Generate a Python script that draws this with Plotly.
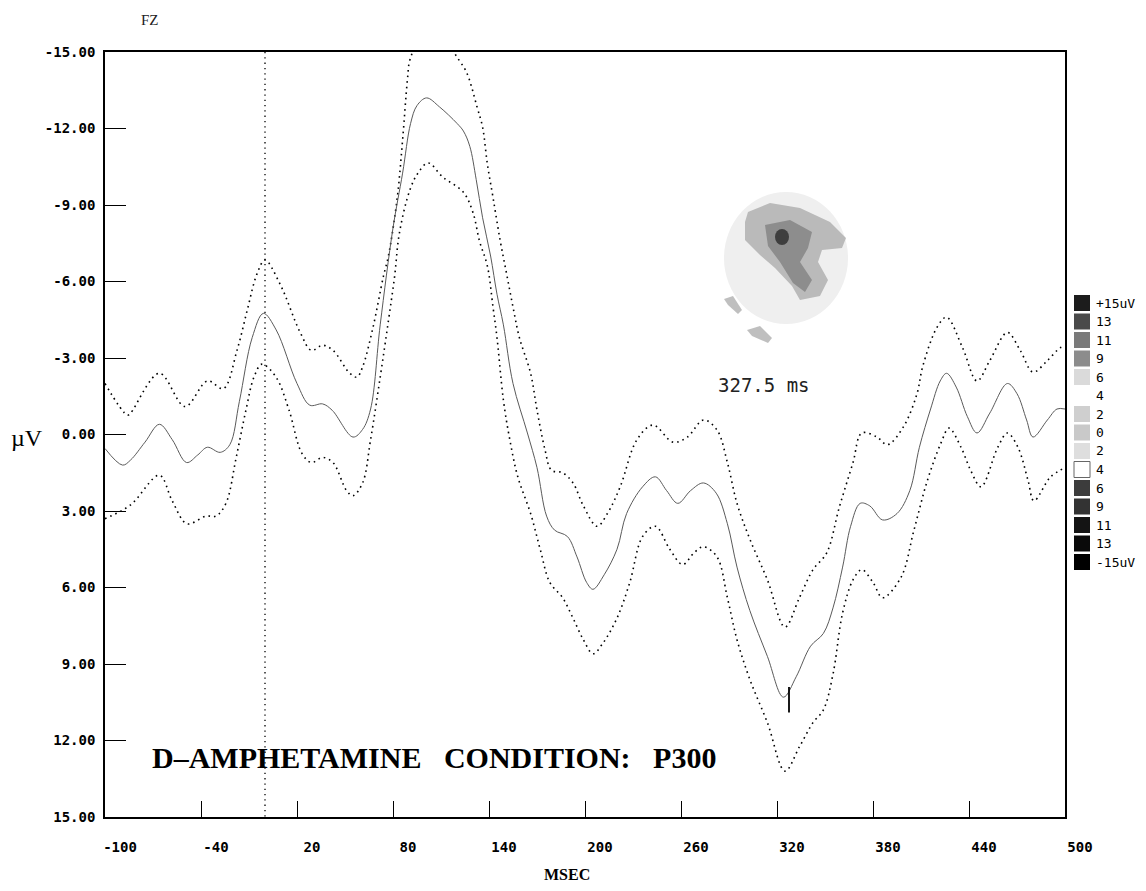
import plotly.graph_objects as go

# ---------------- data ----------------
mean_ms = [-100, -89, -84, -75, -66, -58, -49, -42, -36, -28, -22, -16, -8, -1, 7, 20, 28, 36, 42, 55,
           61, 66, 72, 80, 86, 91, 95, 101, 109, 120, 124, 128, 132, 136, 141, 145, 149, 155, 164, 170,
           176, 181, 189, 195, 201, 205, 212, 220, 226, 236, 244, 251, 258, 266, 274, 282, 289, 295, 303,
           314, 324, 332, 341, 349, 355, 361, 366, 372, 378, 386, 395, 403, 409, 416, 422, 426, 432, 439,
           445, 453, 464, 470, 476, 480, 489, 495, 500]
mean_uv = [0.55, 1.2, 1.0, 0.3, -0.4, 0.2, 1.1, 0.8, 0.5, 0.7, 0.4, -1.3, -3.8, -4.75, -4.1, -2.0, -1.15,
           -1.2, -0.95, 0.1, -0.2, -1.0, -4.3, -8.1, -10.25, -12.2, -12.9, -13.2, -12.85, -12.2, -11.9,
           -11.3, -10.0, -8.5, -7.0, -5.5, -4.3, -2.0, -0.06, 1.3, 3.2, 3.75, 4.0, 4.8, 5.8, 6.07, 5.5,
           4.5, 3.1, 2.05, 1.66, 2.2, 2.7, 2.2, 1.9, 2.3, 3.5, 5.2, 6.9, 8.7, 10.3, 9.5, 8.3, 7.8, 6.8,
           5.2, 3.6, 2.7, 2.8, 3.35, 3.1, 2.2, 0.5, -1.0, -2.1, -2.4, -1.86, -0.7, -0.06, -0.84, -2.0,
           -1.6, -0.57, 0.1, -0.57, -1.0, -1.0]

upper_ms = [-100, -86, -84, -66, -50, -36, -26, -17.5, -11, -5, 0, 9.4, 22, 29, 36, 42.5, 53, 57.5, 61,
            67.5, 74, 77, 82.5, 86, 89, 90.6, 96, 104, 112, 117, 120, 126, 132.5, 136, 139, 142.5, 147,
            151, 155, 159, 166, 170, 175, 179, 186, 192.5, 199, 207.5, 214, 222, 232.5, 242.5, 255, 264,
            274, 282.5, 289, 295, 303, 314, 325, 334, 342.5, 351, 359, 367.5, 373, 382.5, 389, 399,
            407.5, 411, 420, 426, 436, 445, 453, 464, 472, 480, 489, 497, 500]
upper_uv = [-2.0, -0.76, -0.84, -2.4, -1.1, -2.1, -1.8, -3.3, -4.9, -6.3, -6.84, -5.9, -4.0, -3.3, -3.5,
            -3.3, -2.4, -2.25, -2.65, -4.2, -6.2, -6.96, -9.2, -11.55, -13.9, -14.7, -15.4, -15.8, -15.6,
            -15.1, -14.8, -14.2, -12.85, -12.05, -10.6, -9.3, -7.6, -6.3, -5.0, -3.8, -2.4, -0.96, 0.6,
            1.4, 1.5, 1.9, 2.8, 3.6, 3.1, 2.05, 0.2, -0.37, 0.3, 0.1, -0.57, -0.18, 1.1, 2.7, 4.1, 5.7,
            7.55, 6.4, 5.3, 4.65, 2.84, 1.1, -0.06, 0.1, 0.4, -0.3, -1.6, -2.65, -4.2, -4.6, -3.4, -2.1,
            -2.9, -4.0, -3.3, -2.45, -2.9, -3.4, -3.45]

lower_ms = [-100, -84, -66, -58, -48.75, -36.9, -30.6, -24.4, -18, -11.9, -6.9, -1.9, 6.9, 15, 23, 29,
            36, 42.5, 51, 55, 61, 66, 72, 77, 81, 84, 90.6, 95.6, 102, 111, 124, 130, 134, 139, 142.5,
            145, 149, 153, 158, 166, 172, 178, 186, 192.5, 199, 205, 211, 220, 228, 236, 244, 253, 261,
            268, 274, 282.5, 289, 295, 303, 314, 325, 334, 342.5, 349, 355, 361, 367.5, 373, 380, 386,
            397.5, 405.6, 414, 422.5, 427.5, 435, 441, 447.5, 458, 464, 470.6, 476.9, 480.6, 491, 500]
lower_uv = [3.3, 2.76, 1.6, 2.6, 3.5, 3.2, 3.2, 2.7, 0.9, -0.96, -2.25, -2.76, -2.25, -0.96, 0.73, 1.1,
            0.9, 1.1, 2.2, 2.4, 1.9, 0.2, -2.25, -4.4, -6.2, -7.9, -9.6, -10.25, -10.65, -10.1, -9.5,
            -8.7, -7.6, -6.6, -5.0, -3.8, -1.35, 0.2, 1.66, 3.1, 4.5, 5.8, 6.4, 7.2, 8.05, 8.6, 8.2, 7.2,
            5.8, 4.0, 3.6, 4.5, 5.1, 4.65, 4.4, 4.8, 6.4, 8.05, 9.6, 11.3, 13.2, 12.25, 11.3, 10.8, 9.4,
            7.0, 5.7, 5.3, 5.8, 6.4, 5.6, 3.75, 1.8, 0.33, -0.25, 0.5, 1.4, 2.05, 0.5, -0.06, 0.5, 1.8,
            2.6, 1.66, 1.3]

stim_ms = 0
peak_ms = 327.5
peak_mark_uv = [9.9, 10.9]
peak_label = "327.5 ms"

x_ticks = [-100, -40, 20, 80, 140, 200, 260, 320, 380, 440, 500]
y_ticks = [-15, -12, -9, -6, -3, 0, 3, 6, 9, 12, 15]

scale_labels = ["+15uV", "13", "11", "9", "6", "4", "2", "0", "2", "4", "6", "9", "11", "13", "-15uV"]
scale_greys = ["#1c1c1c", "#4a4a4a", "#7a7a7a", "#8c8c8c", "#dadada", None, "#cfcfcf", "#c9c9c9",
               "#dedede", "#ffffff", "#3c3c3c", "#333333", "#141414", "#0a0a0a", "#000000"]

# ---------------- layout geometry (absolute window pixels) ----------------
OFF = 8                      # page body margin
W, H = 1146 - 2 * OFF, 891 - 2 * OFF
L, R, T, B = 105, 1065, 52, 817


def px(xp):
    return (xp - L) / (R - L)


def py(yp):
    return (B - yp) / (B - T)


fig = go.Figure()

fig.add_trace(go.Scatter(x=upper_ms, y=upper_uv, mode="lines", line=dict(color="black", width=1.6, dash="1.6px,4px"),
                         line_shape="spline", showlegend=False, hoverinfo="skip"))
fig.add_trace(go.Scatter(x=lower_ms, y=lower_uv, mode="lines", line=dict(color="black", width=1.6, dash="1.6px,4px"),
                         line_shape="spline", showlegend=False, hoverinfo="skip"))
fig.add_trace(go.Scatter(x=mean_ms, y=mean_uv, mode="lines", line=dict(color="#5a5a5a", width=1.0),
                         line_shape="spline", showlegend=False, hoverinfo="skip"))
# stimulus-onset dotted line and peak marker
fig.add_trace(go.Scatter(x=[stim_ms, stim_ms], y=[-15, 15], mode="lines",
                         line=dict(color="black", width=1.3, dash="1.3px,4px"), showlegend=False, hoverinfo="skip"))
fig.add_trace(go.Scatter(x=[peak_ms, peak_ms], y=peak_mark_uv, mode="lines",
                         line=dict(color="black", width=1.8), showlegend=False, hoverinfo="skip"))

shapes = []
annotations = []


# ---------- topographic head map (decorative approximation) ----------
def ell(cx, cy, rx, ry, fill, op=1.0):
    shapes.append(dict(type="circle", xref="paper", yref="paper",
                       x0=px(cx - rx), x1=px(cx + rx), y0=py(cy + ry), y1=py(cy - ry),
                       fillcolor=fill, opacity=op, line=dict(width=0), layer="below"))


def poly(pts, fill, op=1.0):
    d = "M " + " L ".join(f"{px(a):.5f},{py(b):.5f}" for a, b in pts) + " Z"
    shapes.append(dict(type="path", xref="paper", yref="paper", path=d, fillcolor=fill, opacity=op,
                       line=dict(width=0), layer="below"))


ell(786, 258, 62, 66, "#efefef", 1.0)
poly([(748, 212), (770, 203), (800, 208), (830, 222), (846, 238), (842, 248), (822, 250), (818, 262),
      (828, 280), (820, 296), (800, 300), (792, 286), (775, 268), (760, 255), (745, 240), (745, 222)],
     "#b4b4b4", 0.9)
poly([(765, 225), (790, 220), (812, 232), (808, 248), (800, 262), (812, 280), (805, 292), (793, 283),
      (780, 262), (768, 246)], "#858585", 0.85)
ell(782, 237, 7, 8, "#3a3a3a", 0.95)
poly([(724, 299), (733, 296), (742, 310), (738, 314), (728, 305)], "#b8b8b8", 0.9)
poly([(747, 330), (760, 326), (772, 338), (768, 343), (752, 336)], "#b8b8b8", 0.9)

annotations.append(dict(x=px(764), y=py(385), xref="paper", yref="paper", text=peak_label, showarrow=False,
                        font=dict(family="DejaVu Sans Mono", size=19, color="#222222"), xanchor="center",
                        yanchor="middle"))

# ---------- amplitude scale on the right ----------
for i, (lab, g) in enumerate(zip(scale_labels, scale_greys)):
    yc = 303 + i * 18.5
    if g is not None:
        shapes.append(dict(type="rect", xref="paper", yref="paper", x0=px(1074), x1=px(1090),
                           y0=py(yc + 8), y1=py(yc - 8), fillcolor=g,
                           line=dict(width=1 if g == "#ffffff" else 0, color="#666666")))
    annotations.append(dict(x=px(1094), y=py(yc), xref="paper", yref="paper", text=lab, showarrow=False,
                            xanchor="left", yanchor="middle",
                            font=dict(family="DejaVu Sans Mono", size=13, color="black")))

# ---------- texts ----------
annotations.append(dict(x=px(150), y=py(20), xref="paper", yref="paper", text="FZ", showarrow=False,
                        font=dict(family="Liberation Serif", size=15, color="#222222"), xanchor="center",
                        yanchor="middle"))
annotations.append(dict(x=px(27), y=py(438), xref="paper", yref="paper", text="µV", showarrow=False,
                        font=dict(family="Liberation Serif", size=24, color="black"), xanchor="center",
                        yanchor="middle"))
annotations.append(dict(x=px(567), y=py(874), xref="paper", yref="paper", text="<b>MSEC</b>", showarrow=False,
                        font=dict(family="Liberation Serif", size=16, color="black"), xanchor="center",
                        yanchor="middle"))
annotations.append(dict(x=px(150), y=py(757), xref="paper", yref="paper",
                        text="<b>D–AMPHETAMINE&nbsp;&nbsp; CONDITION:&nbsp;&nbsp; P300</b>",
                        showarrow=False,
                        font=dict(family="Liberation Serif", size=30, color="black"), xanchor="left",
                        yanchor="middle"))

fig.update_layout(
    width=W, height=H,
    margin=dict(l=L - OFF, r=(W + OFF) - R, t=T - OFF, b=(H + OFF) - B, pad=0),
    paper_bgcolor="white", plot_bgcolor="white",
    shapes=shapes, annotations=annotations,
    showlegend=False,
)
fig.update_xaxes(range=[-100, 500], tickvals=x_ticks, ticktext=[str(v) for v in x_ticks],
                 ticks="inside", ticklen=16, tickwidth=1.3, tickcolor="black",
                 showline=True, linecolor="black", linewidth=1.6, mirror=True,
                 showgrid=False, zeroline=False, ticklabelshift=15, ticklabelstandoff=16,
                 tickfont=dict(family="DejaVu Sans Mono", size=14, color="black", weight="bold"))
fig.update_yaxes(range=[15, -15], tickvals=y_ticks, ticktext=[f"{v:.2f}" for v in y_ticks],
                 ticks="inside", ticklen=21, tickwidth=1.3, tickcolor="black",
                 showline=True, linecolor="black", linewidth=1.6, mirror=True,
                 showgrid=False, zeroline=False, ticklabelstandoff=5,
                 tickfont=dict(family="DejaVu Sans Mono", size=14, color="black", weight="bold"))

fig.write_html("out.html")
